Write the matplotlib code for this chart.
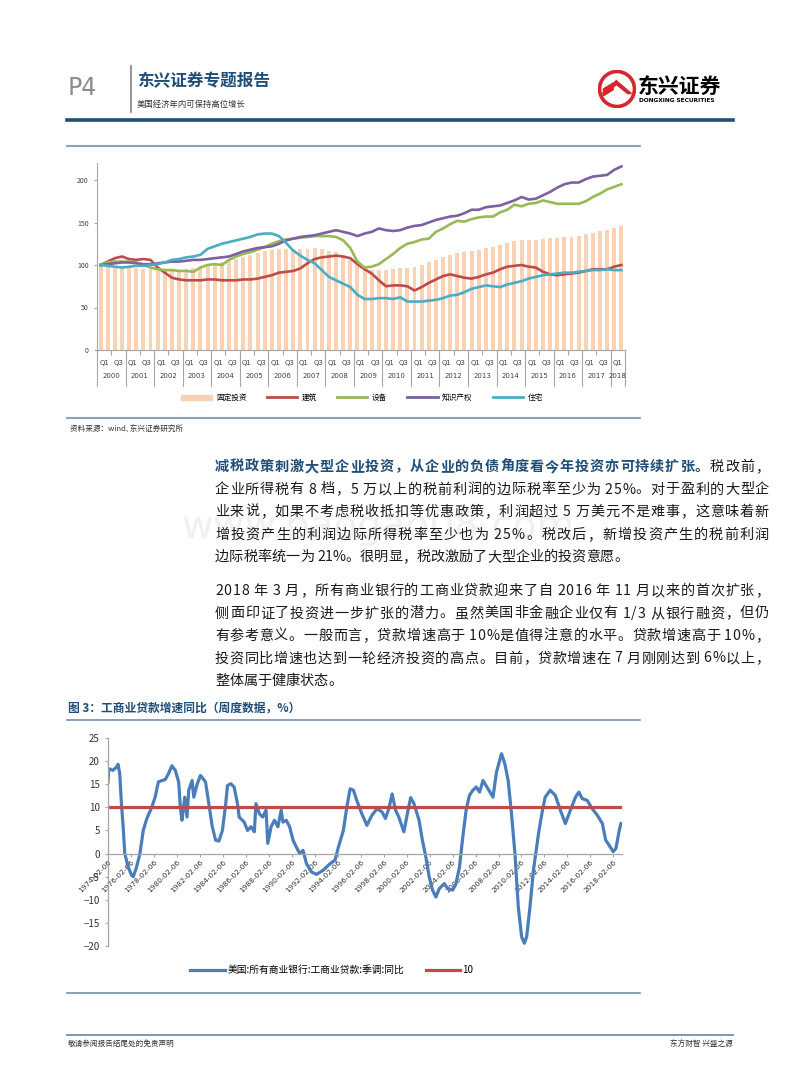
import numpy as np
import matplotlib
matplotlib.use('Agg')
import matplotlib.pyplot as plt
import matplotlib.transforms as mtransforms
from matplotlib.patches import Patch, Circle, Polygon
from matplotlib.lines import Line2D

plt.rcParams['font.family'] = ['Noto Sans CJK SC', 'DejaVu Sans']

# ---------------- 图: 美国固定投资分项 (2000Q1 = 100, 季度)
years = list(range(2000, 2019))
quarter_tags = ['Q1', 'Q3']
fixed_inv = [100, 99, 99, 98, 97, 96, 95, 95, 94, 94, 94, 94, 95, 96, 98, 99,
             101, 103, 105, 107, 110, 112, 114, 116, 118, 119, 119, 119, 119, 119, 120, 119,
             117, 115, 111, 106, 100, 95, 94, 94, 94, 95, 96, 97, 98, 100, 103, 106,
             110, 112, 114, 115, 117, 118, 120, 121, 124, 126, 128, 129, 130, 130, 131, 132,
             132, 133, 133, 134, 136, 138, 140, 141, 144, 146]
construction = [100, 104, 108, 110, 107, 106, 107, 106, 97, 91, 85, 83, 82, 82, 82, 83,
                83, 82, 82, 82, 83, 83, 84, 86, 88, 91, 92, 93, 96, 102, 107, 109,
                110, 111, 110, 108, 101, 95, 90, 82, 75, 76, 76, 75, 70, 74, 79, 83,
                87, 89, 87, 85, 84, 86, 89, 91, 95, 98, 99, 100, 98, 97, 92, 89,
                88, 89, 90, 91, 93, 95, 95, 95, 98, 100]
equipment = [100, 103, 104, 104, 104, 103, 100, 97, 95, 94, 94, 93, 93, 92, 97, 100,
             101, 100, 106, 110, 113, 115, 118, 121, 125, 128, 130, 131, 132, 133, 134, 134,
             134, 133, 129, 120, 104, 97, 98, 101, 107, 113, 120, 125, 127, 130, 131, 139,
             143, 148, 152, 151, 154, 156, 157, 157, 162, 165, 171, 169, 172, 173, 176, 174,
             172, 172, 172, 172, 175, 180, 184, 189, 192, 195]
ip_products = [100, 101, 102, 103, 103, 102, 101, 101, 102, 103, 104, 104, 105, 106, 106, 107,
               108, 109, 110, 113, 116, 118, 120, 121, 122, 125, 129, 131, 133, 134, 135, 137,
               139, 141, 139, 137, 134, 137, 139, 143, 141, 140, 141, 144, 146, 147, 150, 153,
               155, 157, 158, 161, 165, 165, 168, 169, 170, 173, 176, 180, 177, 178, 182, 186,
               191, 195, 197, 197, 201, 204, 205, 206, 212, 216]
residential = [100, 99, 98, 97, 98, 99, 99, 100, 101, 103, 106, 107, 109, 110, 112, 119,
               122, 125, 127, 129, 131, 133, 136, 137, 137, 134, 126, 117, 111, 106, 102, 94,
               86, 82, 78, 74, 65, 60, 60, 61, 61, 60, 62, 57, 57, 57, 58, 59,
               61, 64, 65, 68, 72, 74, 76, 75, 74, 77, 79, 81, 84, 86, 88, 89,
               90, 91, 91, 92, 93, 94, 94, 95, 94, 94]

# ---------------- 图3: 工商业贷款增速同比 (周度, %)
loan_year = [1974.10, 1974.16, 1974.25, 1974.54, 1974.83, 1974.98, 1975.12, 1975.27, 1975.42, 1975.56,
             1975.86, 1976.15, 1976.30, 1976.59, 1976.88, 1977.17, 1977.47, 1977.91, 1978.20, 1978.49,
             1978.79, 1979.08, 1979.37, 1979.66, 1979.96, 1980.25, 1980.40, 1980.54, 1980.78, 1980.98,
             1981.13, 1981.42, 1981.57, 1981.86, 1982.15, 1982.59, 1982.88, 1983.18, 1983.47, 1983.76,
             1984.06, 1984.35, 1984.50, 1984.79, 1985.08, 1985.37, 1985.52, 1985.96, 1986.25, 1986.55,
             1986.84, 1986.98, 1987.28, 1987.57, 1987.86, 1988.01, 1988.30, 1988.59, 1988.89, 1989.18,
             1989.33, 1989.62, 1989.91, 1990.21, 1990.50, 1990.79, 1991.08, 1991.38, 1991.82, 1992.26,
             1992.84, 1993.43, 1993.87, 1994.16, 1994.59, 1994.89, 1995.18, 1995.47, 1995.76, 1996.20,
             1996.64, 1997.08, 1997.52, 1997.96, 1998.25, 1998.55, 1998.84, 1999.13, 1999.42, 1999.86,
             2000.16, 2000.45, 2000.74, 2001.18, 2001.47, 2001.77, 2002.06, 2002.35, 2002.65, 2002.94,
             2003.38, 2003.67, 2004.11, 2004.40, 2004.70, 2004.99, 2005.28, 2005.57, 2005.87, 2006.16,
             2006.45, 2006.75, 2007.18, 2007.62, 2007.92, 2008.36, 2008.65, 2008.94, 2009.23, 2009.53,
             2009.82, 2010.11, 2010.35, 2010.55, 2010.84, 2011.14, 2011.58, 2011.87, 2012.16, 2012.60,
             2013.04, 2013.48, 2013.92, 2014.36, 2014.80, 2015.09, 2015.38, 2015.82, 2016.26, 2016.70,
             2017.14, 2017.43, 2017.73, 2018.08, 2018.32, 2018.61, 2018.76]
loan_yoy = [15.5, 18.0, 18.3, 18.0, 18.7, 19.3, 17.3, 10.8, 5.8, 0.0,
            -2.9, -4.7, -5.0, -2.9, 0.0, 5.0, 7.5, 10.0, 12.2, 15.5,
            15.8, 16.0, 17.3, 19.0, 18.0, 15.5, 10.0, 7.2, 12.2, 7.9,
            13.7, 15.8, 12.2, 15.0, 16.9, 15.5, 10.8, 5.8, 2.9, 2.7,
            5.0, 10.8, 14.7, 15.1, 14.4, 10.8, 7.9, 6.8, 5.0, 5.8,
            4.7, 10.8, 8.6, 7.9, 9.4, 2.2, 5.8, 7.2, 5.8, 9.4,
            6.8, 7.2, 5.8, 2.9, 1.4, 0.0, 0.7, -2.2, -4.0, -4.5,
            -3.6, -2.2, -1.4, 1.4, 5.0, 10.0, 14.0, 13.7, 11.5, 8.6,
            6.1, 8.3, 9.7, 9.0, 7.6, 9.7, 12.9, 9.4, 7.9, 4.7,
            8.6, 12.1, 10.8, 7.2, 2.9, -0.7, -5.0, -7.9, -9.4, -7.6,
            -6.5, -7.6, -7.9, -6.5, -2.9, 3.6, 9.4, 12.6, 13.7, 14.4,
            13.3, 15.8, 14.0, 12.2, 17.6, 21.6, 19.4, 15.8, 8.6, 0.0,
            -11.5, -18.0, -19.4, -18.0, -11.5, -3.6, 4.3, 8.6, 12.2, 13.7,
            12.6, 9.4, 6.5, 9.4, 12.2, 13.3, 11.9, 11.5, 9.7, 8.3,
            6.5, 2.9, 1.8, 0.4, 1.1, 5.0, 6.5]
threshold = 10
loan_tick_years = list(range(1974, 2019, 2))

W, H = 800, 1086
fig = plt.figure(figsize=(W / 100, H / 100), dpi=100)


def fx(px):
    return px / W


def fy(py):
    return 1 - py / H


def hline(y, x0, x1, color, lw):
    fig.add_artist(Line2D([fx(x0), fx(x1)], [fy(y), fy(y)], color=color, lw=lw))


navy = '#1f4e79'
frame_c = '#7390ad'

# ---------------- header
fig.text(fx(68), fy(88), 'P4', fontsize=17, color='#8c8c8c', va='center',
         family=['Liberation Sans Narrow', 'DejaVu Sans'])
fig.add_artist(Line2D([fx(131), fx(131)], [fy(66), fy(112)], color='#8c8c8c', lw=1.3))
fig.text(fx(137), fy(81), '东兴证券专题报告', fontsize=12, fontweight='bold', color=navy, va='center')
fig.text(fx(137), fy(104), '美国经济年内可保持高位增长', fontsize=6, color='#333333', va='center')

logo = fig.add_axes([fx(598), fy(108), 38 / W, 38 / H])
logo.set_xlim(0, 1)
logo.set_ylim(0, 1)
logo.axis('off')
logo.add_patch(Circle((0.5, 0.5), 0.46, fill=False, ec='#d7262c', lw=2.6))
logo.add_patch(Polygon([[0.12, 0.38], [0.48, 0.72], [0.88, 0.38], [0.78, 0.38],
                        [0.48, 0.62], [0.22, 0.38]], closed=True, color='#d7262c'))
for k in range(3):
    logo.add_patch(Polygon([[0.14, 0.50 - 0.07 * k], [0.40, 0.50 - 0.07 * k + 0.16],
                            [0.40, 0.50 - 0.07 * k + 0.12], [0.14, 0.46 - 0.07 * k]],
                           closed=True, color='#d7262c'))
fig.text(fx(638), fy(86), '东兴证券', fontsize=15, fontweight='bold', color='black', va='center')
fig.text(fx(639), fy(101), 'DONGXING SECURITIES', fontsize=4.2, fontweight='bold', va='center',
         family='DejaVu Sans')
hline(120, 67, 733, navy, 2.6)

# ---------------- top chart
hline(146, 67, 640, frame_c, 1.2)
hline(418, 67, 640, frame_c, 1.2)

ax = fig.add_axes([fx(97), fy(350), fx(625) - fx(97), fy(163) - fy(350)])
xq = np.arange(len(fixed_inv))
ax.bar(xq, fixed_inv, width=0.55, color='#f9d2b5', zorder=1)
ax.plot(xq, construction, color='#be4b48', lw=1.9, zorder=3)
ax.plot(xq, equipment, color='#98b954', lw=1.9, zorder=3)
ax.plot(xq, ip_products, color='#7d60a0', lw=1.9, zorder=3)
ax.plot(xq, residential, color='#4bacc6', lw=1.9, zorder=3)
ax.set_xlim(-0.5, len(fixed_inv) - 0.5)
ax.set_ylim(0, 220)
ax.set_yticks([0, 50, 100, 150, 200])
for s in ['top', 'right']:
    ax.spines[s].set_visible(False)
for s in ['left', 'bottom']:
    ax.spines[s].set_color('#a6a6a6')
    ax.spines[s].set_linewidth(0.8)
ax.tick_params(axis='y', labelsize=5, colors='#a6a6a6', labelcolor='#404040', length=2.5, width=0.8)
ax.set_xticks(np.arange(-0.5, len(fixed_inv), 2))
ax.tick_params(axis='x', labelbottom=False, length=3.6, colors='#a6a6a6', width=0.8)
trans = mtransforms.blended_transform_factory(ax.transData, ax.transAxes)
for i in range(0, len(fixed_inv), 2):
    ax.text(i + 0.5, -0.07, quarter_tags[(i // 2) % 2], transform=trans, fontsize=5,
            ha='center', va='center', color='#404040', family='DejaVu Sans')
for k, yr in enumerate(years):
    start = 4 * k - 0.5
    end = min(start + 4, len(fixed_inv) - 0.5)
    ax.text((start + end) / 2, -0.139, str(yr), transform=trans, fontsize=5,
            ha='center', va='center', color='#404040', family='DejaVu Sans')
    ax.plot([start, start], [0, -0.19], transform=trans, color='#a6a6a6', lw=0.8, clip_on=False)
ax.plot([len(fixed_inv) - 0.5] * 2, [0, -0.19], transform=trans, color='#a6a6a6', lw=0.8, clip_on=False)

handles = [Patch(color='#f9d2b5', label='固定投资'),
           Line2D([], [], color='#be4b48', lw=2, label='建筑'),
           Line2D([], [], color='#98b954', lw=2, label='设备'),
           Line2D([], [], color='#7d60a0', lw=2, label='知识产权'),
           Line2D([], [], color='#4bacc6', lw=2, label='住宅')]
fig.legend(handles=handles, loc='center', bbox_to_anchor=(fx(362), fy(398)), ncol=5,
           frameon=False, fontsize=5.5, handlelength=4, columnspacing=2.6, handletextpad=0.6)

fig.text(fx(70), fy(430), '资料来源：wind, 东兴证券研究所', fontsize=5.5, style='italic', color='#333333',
         va='center')

# ---------------- body text
fig.text(fx(378), fy(527), 'www.baogao08.com', fontsize=28, color='#f0f0f0', ha='center',
         va='center', family='DejaVu Sans', zorder=0)

renderer = fig.canvas.get_renderer()
text_left, text_right = 215, 769
body = dict(fontsize=10.2, color='#1a1a1a')
lead = dict(fontsize=10.2, color=navy, fontweight='bold')


def text_width(s, st):
    t = fig.text(0, 0, s, **st)
    w = t.get_window_extent(renderer).width
    t.remove()
    return w


def put_line(segments, py, justify=True):
    chars, offs = [], []
    acc = 0.0
    for s, st in segments:
        for k, c in enumerate(s):
            offs.append(acc + (text_width(s[:k], st) if k else 0.0))
            chars.append((c, st))
        acc += text_width(s, st)
    extra = (text_right - text_left - acc) / (len(chars) - 1) if justify else 0.0
    for k, (c, st) in enumerate(chars):
        if c != ' ':
            fig.text(fx(text_left + offs[k] + k * extra), fy(py), c, va='center', ha='left', **st)


put_line([('减税政策刺激大型企业投资，从企业的负债角度看今年投资亦可持续扩张。', lead), ('税改前，', body)], 467)
put_line([('企业所得税有 8 档，5 万以上的税前利润的边际税率至少为 25%。对于盈利的大型企', body)], 489.5)
put_line([('业来说，如果不考虑税收抵扣等优惠政策，利润超过 5 万美元不是难事，这意味着新', body)], 512)
put_line([('增投资产生的利润边际所得税率至少也为 25%。税改后，新增投资产生的税前利润', body)], 535)
put_line([('边际税率统一为 21%。很明显，税改激励了大型企业的投资意愿。', body)], 557, justify=False)
put_line([('2018 年 3 月，所有商业银行的工商业贷款迎来了自 2016 年 11 月以来的首次扩张，', body)], 591)
put_line([('侧面印证了投资进一步扩张的潜力。虽然美国非金融企业仅有 1/3 从银行融资，但仍', body)], 613.5)
put_line([('有参考意义。一般而言，贷款增速高于 10%是值得注意的水平。贷款增速高于 10%，', body)], 636)
put_line([('投资同比增速也达到一轮经济投资的高点。目前，贷款增速在 7 月刚刚达到 6%以上，', body)], 658.5)
put_line([('整体属于健康状态。', body)], 681, justify=False)

# ---------------- 图3
fig.text(fx(68), fy(708), '图 3：工商业贷款增速同比（周度数据，%）', fontsize=8.5, fontweight='bold',
         color=navy, va='center')
hline(720, 67, 640, frame_c, 1.2)
hline(993, 67, 640, frame_c, 1.2)

ax2 = fig.add_axes([fx(108), fy(946), fx(622) - fx(108), fy(738) - fy(946)])
ax2.plot(loan_year, loan_yoy, color='#4a7ebb', lw=2.3, label='美国:所有商业银行:工商业贷款:季调:同比')
ax2.plot(loan_year, [threshold] * len(loan_year), color='#be4b48', lw=2.3, label=str(threshold))
ax2.set_xlim(1974.1, 2018.85)
ax2.set_ylim(-20, 25)
ax2.set_yticks(range(-20, 26, 5))
for s in ['top', 'right']:
    ax2.spines[s].set_visible(False)
ax2.spines['bottom'].set_position(('data', 0))
for s in ['left', 'bottom']:
    ax2.spines[s].set_color('#a6a6a6')
    ax2.spines[s].set_linewidth(0.9)
ax2.tick_params(axis='y', labelsize=7, colors='#a6a6a6', labelcolor='#333333', length=2.5)
ax2.set_xticks([y + 0.1 for y in loan_tick_years])
ax2.set_xticklabels([f'{y}-02-06' for y in loan_tick_years], rotation=45, ha='right',
                    rotation_mode='anchor', fontsize=5.3, family='DejaVu Sans')
ax2.tick_params(axis='x', colors='#a6a6a6', labelcolor='#333333', length=2.5, pad=1.5)
fig.legend(*ax2.get_legend_handles_labels(), loc='center', bbox_to_anchor=(fx(332), fy(970)),
           ncol=2, frameon=False, fontsize=7, handlelength=3.5, columnspacing=2.2, handletextpad=0.3)

# ---------------- footer
hline(1035, 67, 733, frame_c, 1.3)
fig.text(fx(68), fy(1044), '敬请参阅报告结尾处的免责声明', fontsize=5.5, color='#333333', va='center')
fig.text(fx(733), fy(1044), '东方财智 兴盛之源', fontsize=5.5, color='#333333', va='center', ha='right')

fig.savefig('out.png', dpi=100)
